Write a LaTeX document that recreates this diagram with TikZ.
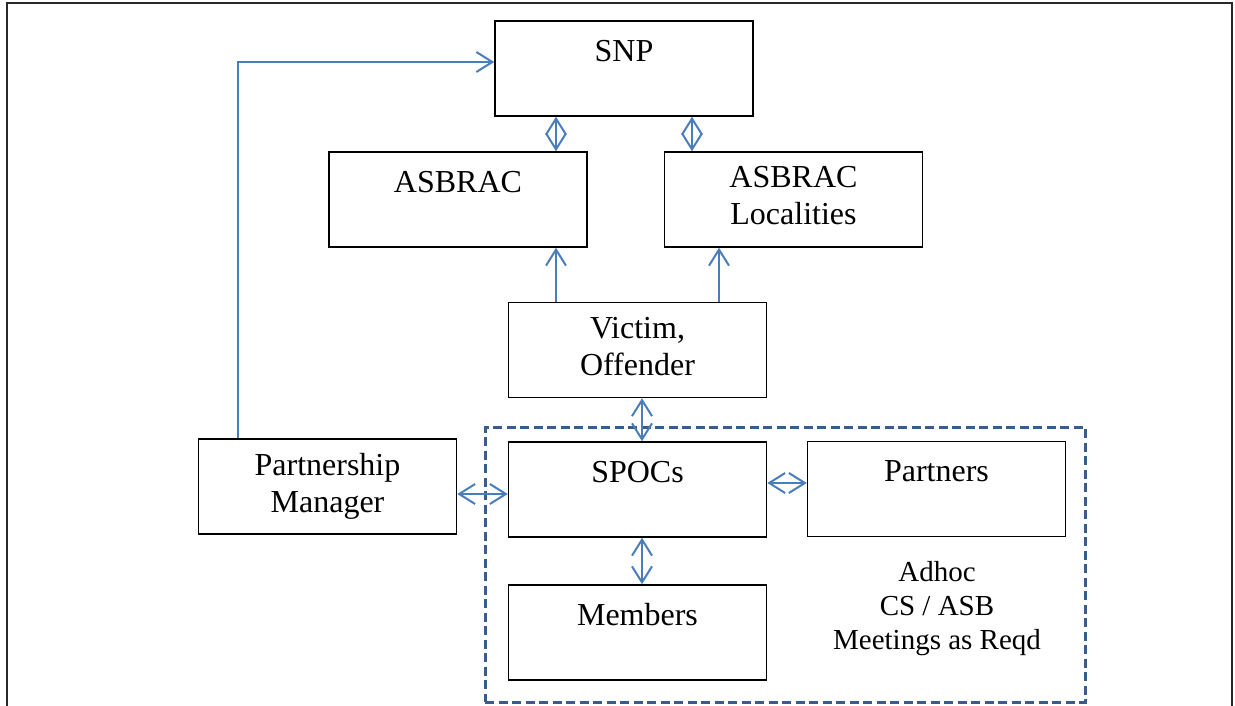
\documentclass[tikz,border=0pt]{standalone}
\usepackage{fontspec}
\setmainfont{Liberation Serif}
\usetikzlibrary{arrows.meta}
\definecolor{linkblue}{RGB}{74,126,187}
\definecolor{groupblue}{RGB}{56,93,138}
\definecolor{framegray}{RGB}{40,40,40}
\begin{document}
\begin{tikzpicture}[x=1pt,y=-1pt,
  box/.style={draw=black, line width=1.5pt, minimum width=258pt, minimum height=95pt, inner sep=0pt},
  txt/.style={inner sep=0pt, anchor=north, align=center, font=\fontsize{32}{37}\selectfont, execute at begin node=\strut},
  notetxt/.style={inner sep=0pt, anchor=north, align=center, font=\fontsize{29}{34}\selectfont, execute at begin node=\strut},
  link/.style={draw=linkblue, line width=2pt, arrows={-Straight Barb[length=16pt,width=20pt]}},
  dlink/.style={draw=linkblue, line width=2pt, arrows={Straight Barb[length=16pt,width=20pt]-Straight Barb[length=16pt,width=20pt]}},
  group/.style={draw=groupblue, line width=3pt, dash pattern=on 9pt off 4.5pt, minimum width=600pt, minimum height=275pt, inner sep=0pt},
  frame/.style={draw=framegray, line width=2pt}]
\useasboundingbox (0,0) rectangle (1235,706);

% page frame, open at the bottom
\draw[frame] (6.5,706) -- (6.5,3) -- (1232,3) -- (1232,706);

% dashed group round the meeting boxes
\node[group] (grp) at (785,564.5) {};

% boxes
\node[box] (snp)      at (624,68.5)   {};
\node[box] (asbrac)   at (458,199.5)  {};
\node[box] (loc)      at (793.5,199.5){};
\node[box] (vic)      at (637.5,350)  {};
\node[box] (pm)       at (327.5,486.5){};
\node[box] (spocs)    at (637.5,489.5){};
\node[box] (partners) at (936.5,489)  {};
\node[box] (members)  at (637.5,632.5){};

% box captions, set from the top of each box
\node[txt] (snp-t)      at ([yshift=-15pt]snp.north)      {SNP};
\node[txt] (asbrac-t)   at ([yshift=-15pt]asbrac.north)   {ASBRAC};
\node[txt] (loc-t)      at ([yshift=-15pt]loc.north)      {ASBRAC\\Localities};
\node[txt] (vic-t)      at ([yshift=-15pt]vic.north)      {Victim,\\Offender};
\node[txt] (pm-t)       at ([yshift=-15pt]pm.north)       {Partnership\\Manager};
\node[txt] (spocs-t)    at ([yshift=-15pt]spocs.north)    {SPOCs};
\node[txt] (partners-t) at ([yshift=-15pt]partners.north) {Partners};
\node[txt] (members-t)  at ([yshift=-15pt]members.north)  {Members};
\node[notetxt] (note)   at (937,561) {Adhoc\\CS / ASB\\Meetings as Reqd};

% connectors
\draw[link] (pm.north west) ++(40,0) |- ([yshift=6.5pt]snp.west);
\draw[dlink] ([xshift=-68pt]snp.south) -- ([xshift=-68pt]snp.south |- asbrac.north);
\draw[dlink] ([xshift=68pt]snp.south) -- ([xshift=68pt]snp.south |- loc.north);
\draw[link] ([xshift=-81.5pt]vic.north) -- ([xshift=-81.5pt]vic.north |- asbrac.south);
\draw[link] ([xshift=81.5pt]vic.north) -- ([xshift=81.5pt]vic.north |- loc.south);
\draw[dlink] ([xshift=4.5pt]vic.south) -- ([xshift=4.5pt]vic.south |- spocs.north);
\draw[dlink] ([xshift=4.5pt]spocs.south) -- ([xshift=4.5pt]spocs.south |- members.north);
\draw[dlink] ([yshift=-7.5pt]pm.east) -- ([yshift=-7.5pt]pm.east -| spocs.west);
\draw[dlink] ([yshift=6.5pt]spocs.east) -- ([yshift=6.5pt]spocs.east -| partners.west);
\end{tikzpicture}
\end{document}
